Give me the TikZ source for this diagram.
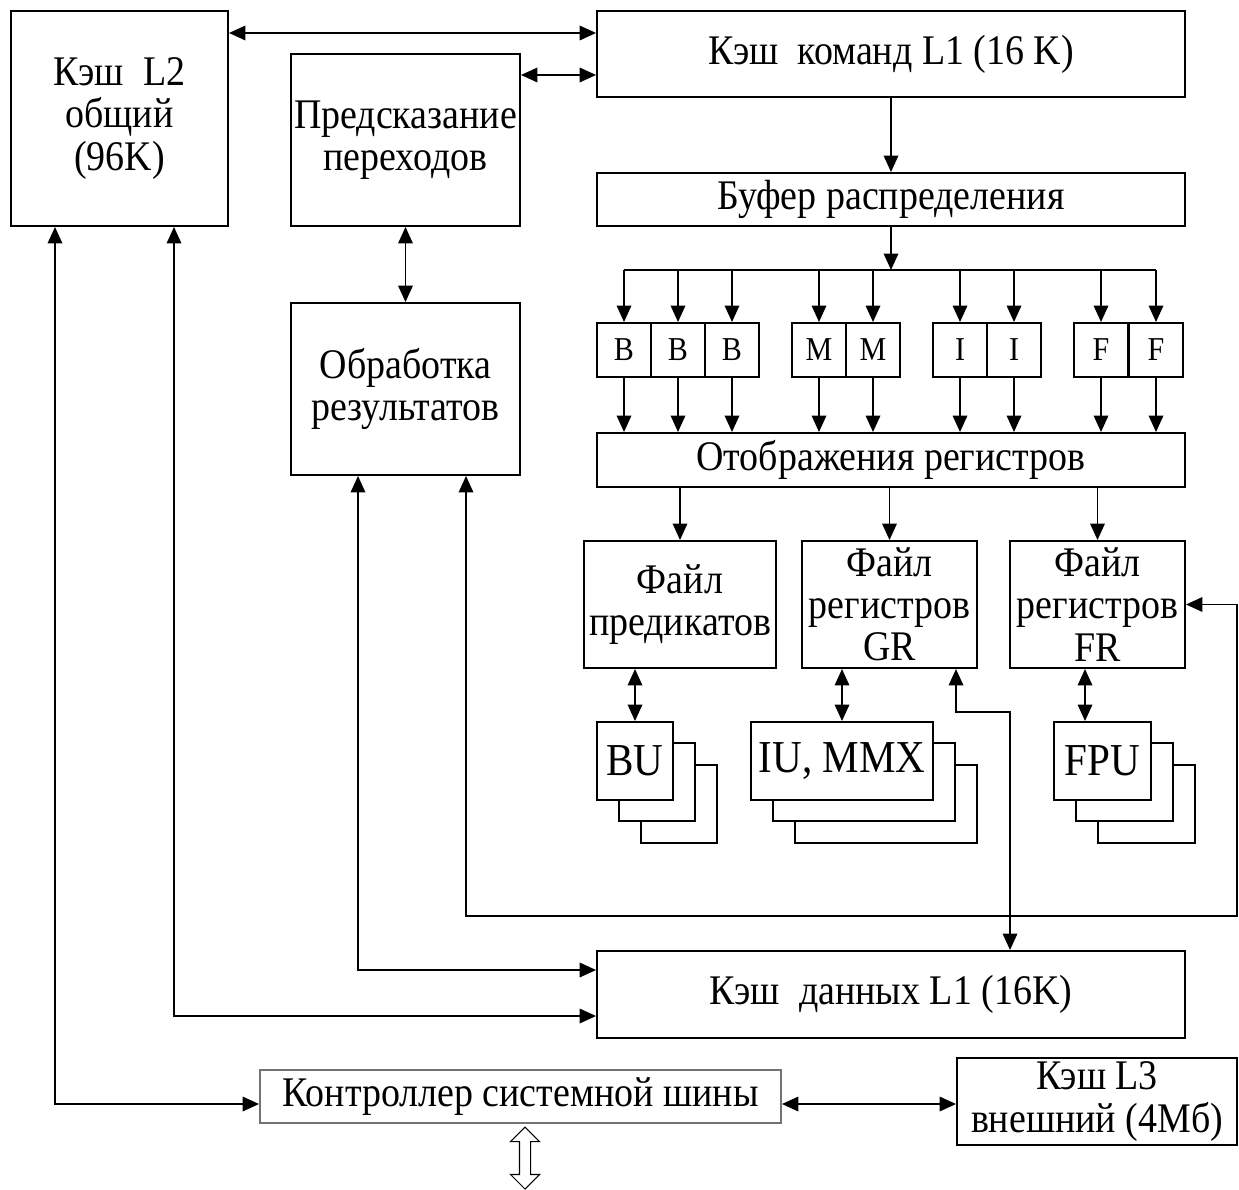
\documentclass[tikz,border=0pt]{standalone}
\usepackage{fontspec}
\setmainfont{Liberation Serif}[FakeStretch=0.9]
\usetikzlibrary{arrows.meta, positioning, shapes.arrows}

\begin{document}
\begin{tikzpicture}[
    x=0.02cm, y=-0.02cm,
    box/.style = {draw, line width=1.1pt, fill=white, inner sep=0pt, align=center},
    cell/.style = {box, minimum width=1.08cm, minimum height=1.08cm, font=\fontsize{19}{22}\selectfont},
    unit/.style = {box, minimum height=1.56cm, font=\fontsize{26}{30}\selectfont},
    arrow/.style = {-{Triangle[length=3.3mm, width=2.9mm]}, line width=1.1pt},
    both/.style = {{Triangle[length=3.3mm, width=2.9mm]}-{Triangle[length=3.3mm, width=2.9mm]}, line width=1.1pt},
    every node/.style={font=\fontsize{24}{24}\selectfont}
  ]
  \useasboundingbox (0,0) rectangle (1239,1189);

  % Caches and front end
  \node[box, minimum width=4.34cm, minimum height=4.3cm] (cacheL2) at (119.5,118.5) {Кэш~ L2\\общий\\(96K)};
  \node[box, minimum width=4.58cm, minimum height=3.44cm] (predict) at (405.5,140) {Предсказание\\переходов};
  \node[box, minimum width=11.76cm, minimum height=1.72cm] (cacheCmd) at (891,54) {Кэш~ команд L1 (16 K)};
  \node[box, minimum width=11.76cm, minimum height=1.06cm] (buffer) at (891,199.5) {Буфер распределения};

  % Ports
  \node[cell] (b1) at (624,350) {B};
  \node[cell] (b2) at (678,350) {B};
  \node[cell] (b3) at (732,350) {B};
  \node[cell] (m1) at (819,350) {M};
  \node[cell] (m2) at (873,350) {M};
  \node[cell] (i1) at (960,350) {I};
  \node[cell] (i2) at (1014,350) {I};
  \node[cell] (f1) at (1101,350) {F};
  \node[cell] (f2) at (1156,350) {F};

  \node[box, minimum width=11.76cm, minimum height=1.08cm] (regMap) at (891,460) {Отображения регистров};
  \node[box, minimum width=4.58cm, minimum height=3.44cm] (results) at (405.5,389) {Обработка\\результатов};

  % Register files
  \node[box, minimum width=3.84cm, minimum height=2.54cm] (predFile) at (680,604.5) {Файл\\предикатов};
  \node[box, minimum width=3.5cm, minimum height=2.54cm] (grFile) at (889.5,604.5) {Файл\\регистров\\GR};
  \node[box, minimum width=3.5cm, minimum height=2.54cm] (frFile) at (1097.5,604.5) {Файл\\регистров\\FR};

  % Execution units, stacked
  \foreach \u/\x/\w/\t in {bu/635/1.52/BU, iu/842/3.64/{IU, MMX}, fpu/1102.5/1.94/FPU} {
    \node[unit, minimum width=\w cm] (\u3) at (\x+44,804) {};
    \node[unit, minimum width=\w cm] (\u2) at (\x+22,782) {};
    \node[unit, minimum width=\w cm] (\u1) at (\x,761) {\t};
  }

  % Data side
  \node[box, minimum width=11.76cm, minimum height=1.74cm] (cacheData) at (891,994.5) {Кэш~ данных L1 (16K)};
  \node[box, draw=black!55, minimum width=10.42cm, minimum height=1.06cm] (busCtrl) at (520.5,1096.5) {Контроллер системной шины};
  \node[box, minimum width=5.6cm, minimum height=1.74cm] (cacheL3) at (1097,1101.5) {Кэш L3\\внешний (4Мб)};
  \node[double arrow, draw, line width=0.6pt, rotate=90, minimum height=1.24cm, inner sep=0.1cm, double arrow head extend=0.18cm] (sysBus) at (525,1158) {};

  % top links
  \coordinate (rowA) at (0,33);
  \coordinate (rowB) at (0,75);
  \draw[both] (cacheL2.east |- rowA) -- (cacheCmd.west |- rowA);
  \draw[both] (predict.east |- rowB) -- (cacheCmd.west |- rowB);
  \draw[arrow] (cacheCmd) -- (buffer);
  \draw[both] (predict) -- (results);

  % dispatch
  \coordinate (split) at (891,270);
  \draw[arrow] (buffer) -- (split);
  \draw[line width=1.1pt] (b1 |- split) -- (f2 |- split);
  \foreach \n in {b1,b2,b3,m1,m2,i1,i2,f1,f2} {
    \draw[arrow] (\n |- split) -- (\n);
    \draw[arrow] (\n) -- (\n |- regMap.north);
  }

  % register files
  \draw[arrow] (regMap.south -| predFile) -- (predFile);
  \draw[arrow] (regMap.south -| grFile) -- (grFile);
  \draw[arrow] (regMap.south -| frFile) -- (frFile);
  \draw[both] (predFile.south -| bu1) -- (bu1);
  \draw[both] (grFile.south -| iu1) -- (iu1);
  \coordinate (fpuLink) at (1085,700);
  \draw[both] (fpuLink |- frFile.south) -- (fpuLink |- fpu1.north);

  % feedback paths
  \coordinate (grTap) at (956,712);
  \coordinate (dataTap) at (1010,712);
  \draw[both] (grTap |- grFile.south) -- (grTap) -- (dataTap) -- (dataTap |- cacheData.north);
  \coordinate (loopR) at (1237,916);
  \coordinate (loopL) at (466,916);
  \draw[both] (frFile.east) -- (frFile.east -| loopR) -- (loopR) -- (loopL) -- (loopL |- results.south);
  \coordinate (resTap) at (358,970);
  \draw[both] (resTap |- results.south) -- (resTap) -- (resTap -| cacheData.west);
  \coordinate (l2Data) at (174,1016);
  \draw[both] (l2Data |- cacheL2.south) -- (l2Data) -- (l2Data -| cacheData.west);
  \coordinate (l2Bus) at (55,1104);
  \draw[both] (l2Bus |- cacheL2.south) -- (l2Bus) -- (l2Bus -| busCtrl.west);
  \draw[both] (busCtrl.east |- l2Bus) -- (cacheL3.west |- l2Bus);
\end{tikzpicture}
\end{document}
